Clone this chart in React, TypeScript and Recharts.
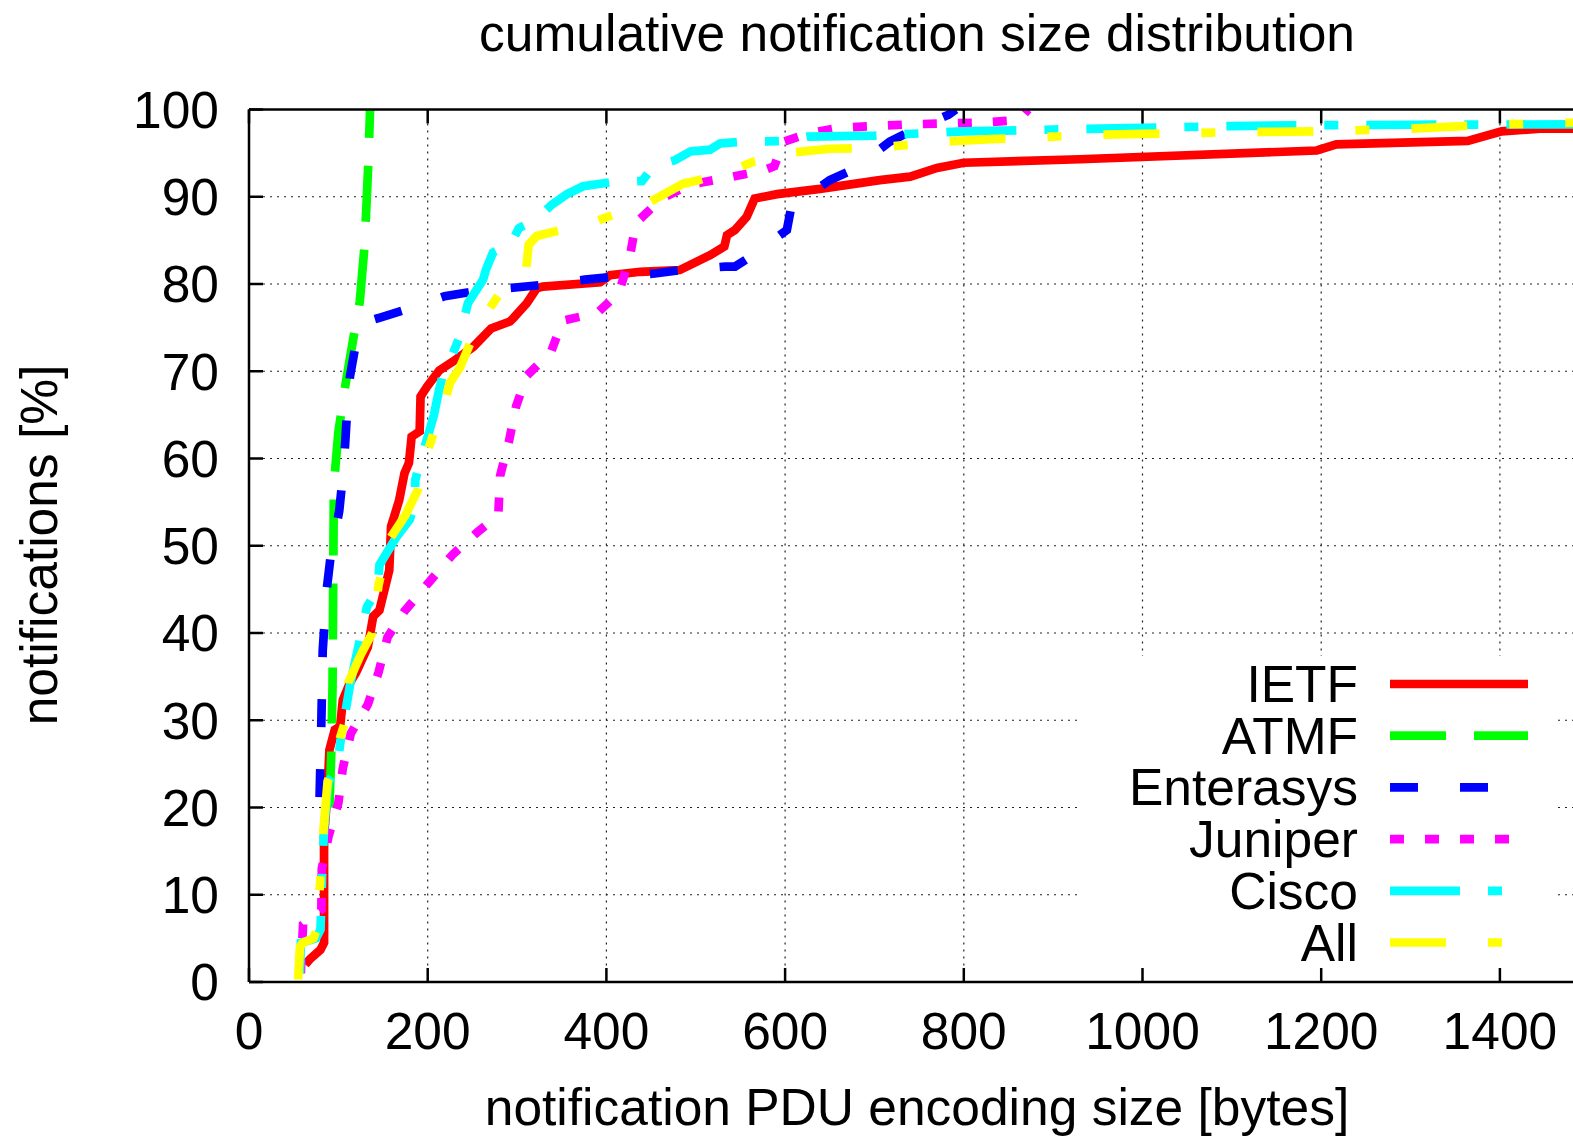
import { CartesianGrid, Line, LineChart, XAxis, YAxis } from "recharts";

const FONT = "'Liberation Sans', Arial, Helvetica, sans-serif";

const sizeTicks = [0, 200, 400, 600, 800, 1000, 1200, 1400];
const pctTicks = [0, 10, 20, 30, 40, 50, 60, 70, 80, 90, 100];

// [size in bytes, cumulative %]
const ietf: [number, number][] = [
  [63, 2], [68, 2.6], [80, 3.7], [84, 4.5], [84, 16.7], [88, 22], [90, 26.6], [96, 28.9],
  [102, 29.3], [105, 32.3], [113, 34.3], [120, 35.5], [133, 38.4], [139, 41.9], [146, 42.6],
  [157, 47.2], [159, 52.2], [168, 55.2], [174, 58.3], [179, 59.5], [182, 62.5], [191, 63.1],
  [192, 67.1], [199, 68.2], [213, 70.1], [228, 71.1], [251, 72.8], [271, 74.9], [292, 75.7],
  [296, 76.1], [311, 77.8], [322, 79.5], [329, 79.7], [393, 80.2], [404, 81.0], [438, 81.4],
  [482, 81.6], [516, 83.3], [532, 84.3], [535, 85.6], [544, 86.2], [557, 87.7], [566, 89.8],
  [591, 90.3], [639, 90.9], [706, 91.9], [740, 92.3], [770, 93.3], [800, 93.9], [930, 94.3],
  [1195, 95.3], [1217, 96.0], [1364, 96.4], [1402, 97.5], [1445, 97.8], [1490, 97.8],
];

const atmf: [number, number][] = [
  [90, 20], [92, 26], [93.5, 34], [94.5, 50], [95, 57], [100, 63], [108, 68.5], [118, 74.5],
  [124, 78], [129, 84], [131, 88], [133.5, 93.8], [135.5, 100],
];

const enterasys: [number, number][] = [
  [79, 21.2], [81, 30], [82.5, 38], [87, 45], [91, 48.5], [101, 54], [104, 57], [107.5, 61.5],
  [109.3, 64.6], [113, 69.4], [118.6, 72.6], [128, 75.6], [145, 76.1], [173, 77], [219, 78.6],
  [249, 79.1], [298, 79.6], [328, 79.9], [376, 80.5], [406, 80.8], [454, 81.2], [484, 81.6],
  [533, 82], [544, 82], [561, 83.1], [602, 86.2], [607, 88.9], [650, 91.9], [676, 93.1],
  [717, 96.3], [740, 97.5], [783, 99.4], [791, 100],
];

const juniper: [number, number][] = [
  [58, 1], [60.5, 6.6], [81, 8.3], [81.5, 13], [89, 16.7], [100, 20.5], [105, 24.5], [114, 28.5],
  [133, 31.8], [145, 35.5], [155, 39.5], [174, 42.5], [203, 46], [228, 49], [255, 51.5],
  [279, 53.5], [281, 58], [291, 62], [299, 66], [311, 69.5], [338, 72.2], [351, 75.8],
  [390, 76.7], [414, 79], [426, 83], [433, 87], [462, 89.8], [494, 91.4], [536, 92.2],
  [575, 93], [588, 93.5], [598, 96.3], [627, 97.3], [661, 97.9], [700, 98.1], [740, 98.3],
  [780, 98.4], [820, 98.5], [862, 98.8], [872, 100],
];

const cisco: [number, number][] = [
  [57, 1], [58, 4.5], [75, 5], [80, 6], [81, 9], [82, 13], [84, 17.5], [89, 23], [98, 24.2],
  [103, 28], [108, 31], [113, 34], [132, 43], [144, 45], [146, 47.8], [165, 51], [180, 53],
  [186, 55], [186, 57.5], [191, 59.5], [200, 62.5], [207, 65], [213, 68], [218, 70],
  [226, 71.5], [236, 74], [245, 77.8], [262, 80.5], [265, 81.6], [273, 83.6], [281, 84],
  [290, 84], [302, 86.4], [320, 87.3], [339, 89.1], [356, 90.3], [374, 91.2], [407, 91.7],
  [440, 91.8], [452, 93.4], [477, 94.2], [494, 95.2], [516, 95.4], [527, 96.1], [552, 96.3],
  [600, 96.4], [625, 96.9], [700, 97.0], [760, 97.3], [800, 97.5], [900, 97.7], [1000, 97.9],
  [1100, 98.1], [1200, 98.2], [1300, 98.25], [1490, 98.3],
];

const all: [number, number][] = [
  [55, 0.3], [57, 4], [60, 4.5], [72, 5], [76, 6], [79, 10.5], [80, 12], [83, 17], [88, 23],
  [96, 25], [102, 28], [108, 30], [111, 34.3], [125, 37.5], [138, 40], [145, 45.5],
  [157, 50.7], [175, 53.5], [189, 56.4], [197, 60], [207, 63], [214, 64.6], [225, 68.7],
  [236, 70.4], [253, 74.5], [268, 77], [283, 79.3], [310, 81.5], [313, 84.5], [322, 85.5],
  [361, 86.5], [385, 87.1], [407, 87.9], [434, 88.7], [447, 89.3], [486, 91.5], [503, 91.9],
  [542, 93.1], [564, 94], [580, 94.4], [600, 95], [650, 95.5], [700, 95.6], [775, 96.3],
  [830, 96.6], [900, 96.9], [950, 97.1], [1000, 97.2], [1100, 97.4], [1200, 97.5],
  [1300, 97.8], [1400, 98.3], [1490, 98.5],
];

const series = [
  { name: "IETF", rows: ietf, color: "#ff0000", dash: undefined },
  { name: "ATMF", rows: atmf, color: "#00ff00", dash: "56 28" },
  { name: "Enterasys", rows: enterasys, color: "#0000ff", dash: "28 42" },
  { name: "Juniper", rows: juniper, color: "#ff00ff", dash: "14 21" },
  { name: "Cisco", rows: cisco, color: "#00ffff", dash: "70 28 14 28" },
  { name: "All", rows: all, color: "#ffff00", dash: "56 42 14 42" },
];

const toPoints = (rows: [number, number][]) => rows.map(([x, y]) => ({ x, y }));

const FS = 51.5;
const tickStyle = { fontSize: FS, fill: "#000", fontFamily: FONT };
const LW = 8.7;

export default function App() {
  return (
    <div
      style={{
        position: "fixed",
        left: 0,
        top: 0,
        width: 1573,
        height: 1140,
        overflow: "hidden",
        background: "#fff",
      }}
    >
      <LineChart width={1720} height={1140} margin={{ top: 99.5, right: 41.4, bottom: 0, left: 0 }}>
        <CartesianGrid
          xAxisId="b"
          yAxisId="l"
          stroke="#222"
          strokeWidth={1.2}
          strokeDasharray="2 5"
        />
        <XAxis
          xAxisId="b"
          type="number"
          dataKey="x"
          domain={[0, 1600]}
          ticks={sizeTicks}
          interval={0}
          allowDataOverflow
          height={158}
          tickSize={-14}
          tickMargin={44}
          axisLine={{ stroke: "#000", strokeWidth: 2.5 }}
          tickLine={{ stroke: "#000", strokeWidth: 2.5 }}
          tick={tickStyle}
        />
        <XAxis
          xAxisId="t"
          orientation="top"
          type="number"
          dataKey="x"
          domain={[0, 1600]}
          ticks={sizeTicks}
          interval={0}
          allowDataOverflow
          height={10}
          tickSize={-14}
          tickFormatter={() => ""}
          axisLine={{ stroke: "#000", strokeWidth: 2.5 }}
          tickLine={{ stroke: "#000", strokeWidth: 2.5 }}
        />
        <YAxis
          yAxisId="l"
          type="number"
          domain={[0, 100]}
          ticks={pctTicks}
          interval={0}
          allowDataOverflow
          width={249}
          tickSize={-14}
          tickMargin={44}
          axisLine={{ stroke: "#000", strokeWidth: 2.5 }}
          tickLine={{ stroke: "#000", strokeWidth: 2.5 }}
          tick={tickStyle}
        />
        {series.map((s) => (
          <Line
            key={s.name}
            xAxisId="b"
            yAxisId="l"
            data={toPoints(s.rows)}
            dataKey="y"
            name={s.name}
            type="linear"
            stroke={s.color}
            strokeWidth={LW}
            strokeDasharray={s.dash}
            dot={false}
            activeDot={false}
            isAnimationActive={false}
          />
        ))}
      </LineChart>

      {/* title, axis labels and key drawn on top, like gnuplot's opaque key */}
      <svg
        width={1573}
        height={1140}
        style={{ position: "absolute", left: 0, top: 0, pointerEvents: "none" }}
        fontFamily={FONT}
      >
        <text x={917} y={51} fontSize={FS} textAnchor="middle" fill="#000">
          cumulative notification size distribution
        </text>
        <text x={917} y={1125} fontSize={FS} textAnchor="middle" fill="#000">
          notification PDU encoding size [bytes]
        </text>
        <text
          x={57}
          y={545}
          fontSize={FS}
          textAnchor="middle"
          fill="#000"
          transform="rotate(-90 57 545)"
        >
          notifications [%]
        </text>
        <rect x={1077} y={656} width={481} height={312} fill="#fff" />
        {series.map((s, i) => {
          const y = 684 + i * 51.7;
          return (
            <g key={s.name}>
              <text x={1358} y={y + 18} fontSize={FS} textAnchor="end" fill="#000">
                {s.name}
              </text>
              <line
                x1={1390}
                x2={1528}
                y1={y}
                y2={y}
                stroke={s.color}
                strokeWidth={LW}
                strokeDasharray={s.dash}
              />
            </g>
          );
        })}
      </svg>
    </div>
  );
}
